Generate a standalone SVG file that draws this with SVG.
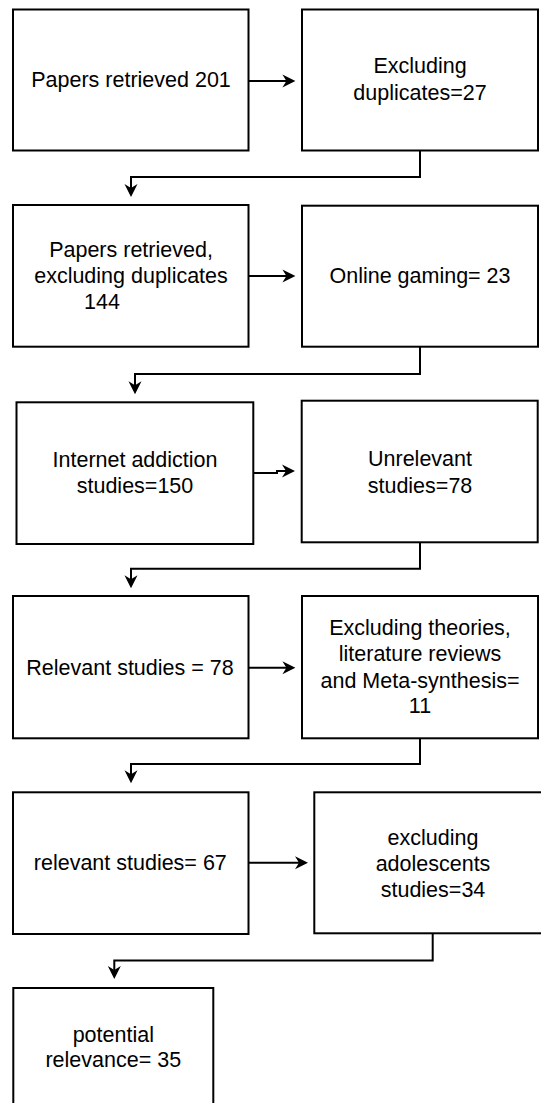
<svg xmlns="http://www.w3.org/2000/svg" width="541" height="1103" viewBox="0 0 541 1103">
  <style>
    .box { fill: #ffffff; stroke: #000000; stroke-width: 2; }
    .lbl { font-family: "Liberation Sans", Arial, sans-serif; font-size: 21.5px; fill: #000000; text-anchor: middle; }
    .lft { text-anchor: start; }
    .con { fill: none; stroke: #000000; stroke-width: 2; }
  </style>
  <defs>
    <marker id="head" markerUnits="userSpaceOnUse" viewBox="-14 -7 16 14" markerWidth="16" markerHeight="14" refX="-8" refY="0" orient="auto">
      <path d="M0,0 L-13,-6.5 L-9,0 L-13,6.5 Z" fill="#000000"/>
    </marker>
  </defs>
  <rect width="541" height="1103" fill="#ffffff"/>

  <!-- connectors -->
  <g id="connectors">
    <path class="con" d="M248.5,81 H287.4" marker-end="url(#head)"/>
    <path class="con" d="M420,151 V177 H131 V189" marker-end="url(#head)"/>
    <path class="con" d="M248.5,276 H287.4" marker-end="url(#head)"/>
    <path class="con" d="M420,347 V374 H135 V386.3" marker-end="url(#head)"/>
    <path class="con" d="M253,473 H277 V471 H287" marker-end="url(#head)"/>
    <path class="con" d="M420,542.3 V568.8 H131 V580.3" marker-end="url(#head)"/>
    <path class="con" d="M248.5,667.7 H287.4" marker-end="url(#head)"/>
    <path class="con" d="M420,738.3 V764 H131 V775.3" marker-end="url(#head)"/>
    <path class="con" d="M248.5,862.7 H300" marker-end="url(#head)"/>
    <path class="con" d="M432.7,933.3 V960.5 H114.3 V971" marker-end="url(#head)"/>
  </g>

  <g id="n-retrieved">
    <rect class="box" x="13" y="9.5" width="235.5" height="141"/>
    <text class="lbl" x="131" y="87.3">Papers retrieved 201</text>
  </g>
  <g id="n-duplicates">
    <rect class="box" x="302" y="9.5" width="236" height="141"/>
    <text class="lbl" x="420" y="73.3">Excluding</text>
    <text class="lbl" x="420" y="100">duplicates=27</text>
  </g>
  <g id="n-retrieved-nodup">
    <rect class="box" x="13" y="205" width="235.5" height="141.7"/>
    <text class="lbl" x="131" y="257.3">Papers retrieved,</text>
    <text class="lbl" x="131" y="283.3">excluding duplicates</text>
    <text class="lbl lft" x="84" y="309.3">144</text>
  </g>
  <g id="n-gaming">
    <rect class="box" x="302" y="205.7" width="236" height="141"/>
    <text class="lbl" x="420" y="283.3">Online gaming= 23</text>
  </g>
  <g id="n-internet">
    <rect class="box" x="16.5" y="402.3" width="236.8" height="141.7"/>
    <text class="lbl" x="135" y="467.3">Internet addiction</text>
    <text class="lbl" x="135" y="493.3">studies=150</text>
  </g>
  <g id="n-unrelevant">
    <rect class="box" x="301.7" y="400.7" width="236" height="141.6"/>
    <text class="lbl" x="420" y="466">Unrelevant</text>
    <text class="lbl" x="420" y="492.7">studies=78</text>
  </g>
  <g id="n-relevant78">
    <rect class="box" x="13" y="596" width="235.5" height="142.3"/>
    <text class="lbl" x="130" y="675">Relevant studies = 78</text>
  </g>
  <g id="n-theories">
    <rect class="box" x="302" y="596" width="236" height="142.3"/>
    <text class="lbl" x="420" y="635">Excluding theories,</text>
    <text class="lbl" x="420" y="660.7">literature reviews</text>
    <text class="lbl" x="420" y="688">and Meta-synthesis=</text>
    <text class="lbl" x="420" y="713.3">11</text>
  </g>
  <g id="n-relevant67">
    <rect class="box" x="13" y="792.3" width="235.5" height="141.7"/>
    <text class="lbl" x="130.3" y="870">relevant studies= 67</text>
  </g>
  <g id="n-adolescents">
    <rect class="box" x="314.3" y="792.3" width="236" height="141"/>
    <text class="lbl" x="433" y="845">excluding</text>
    <text class="lbl" x="433" y="871">adolescents</text>
    <text class="lbl" x="433" y="896.5">studies=34</text>
  </g>
  <g id="n-potential">
    <rect class="box" x="13.3" y="988" width="200" height="130"/>
    <text class="lbl" x="113.3" y="1041.5">potential</text>
    <text class="lbl" x="113.3" y="1067">relevance= 35</text>
  </g>
</svg>
